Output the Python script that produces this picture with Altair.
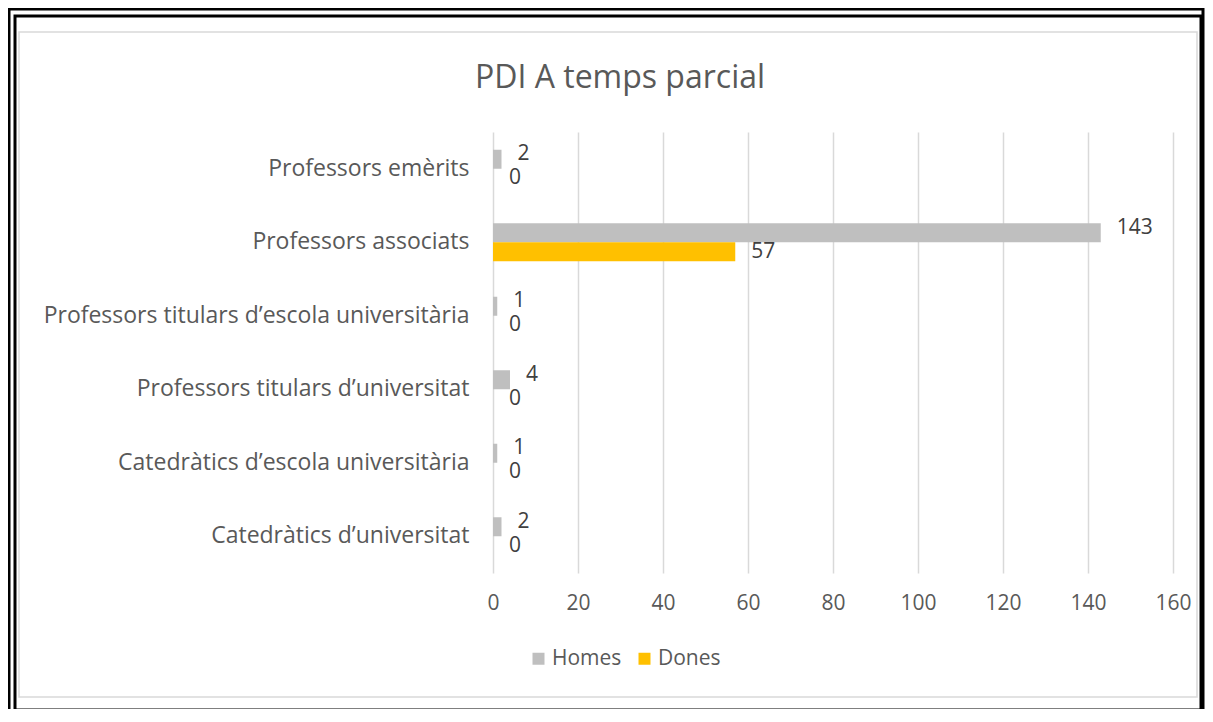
import altair as alt
import pandas as pd

categories = [
    "Professors emèrits",
    "Professors associats",
    "Professors titulars d’escola universitària",
    "Professors titulars d’universitat",
    "Catedràtics d’escola universitària",
    "Catedràtics d’universitat",
]
homes = [2, 143, 1, 4, 1, 2]
dones = [0, 57, 0, 0, 0, 0]
series = ["Homes", "Dones"]
colors = ["#BFBFBF", "#FFC000"]
x_ticks = [0, 20, 40, 60, 80, 100, 120, 140, 160]
title_text = "PDI A temps parcial"

rows = []
for c, h, d in zip(categories, homes, dones):
    rows.append({"cat": c, "series": "Homes", "value": h})
    rows.append({"cat": c, "series": "Dones", "value": d})
df = pd.DataFrame(rows)

FONT = "Open Sans"
TXT = "#595959"

y_enc = alt.Y(
    "cat:N",
    sort=categories,
    scale=alt.Scale(paddingInner=0.483, paddingOuter=0.2415),
    axis=alt.Axis(title=None, domain=False, ticks=False, labelPadding=24,
                  labelFontSize=23, labelColor=TXT, labelFont=FONT,
                  grid=False, labelLimit=700),
)
x_enc = alt.X(
    "value:Q",
    scale=alt.Scale(domain=[0, 160], nice=False),
    axis=alt.Axis(values=x_ticks, title=None, domain=False, ticks=False,
                  labelPadding=19, labelFontSize=21, labelColor=TXT,
                  labelFont=FONT, gridColor="#D9D9D9", gridWidth=1.5,
                  labelFlush=False),
)
yoff = alt.YOffset("series:N", sort=series,
                   scale=alt.Scale(domain=series, paddingInner=0, paddingOuter=0))
color = alt.Color(
    "series:N",
    scale=alt.Scale(domain=series, range=colors),
    legend=alt.Legend(title=None, orient="none", legendX=35, legendY=516,
                      direction="horizontal", symbolType="square",
                      symbolSize=144, symbolStrokeWidth=0,
                      labelFontSize=21, labelColor=TXT, labelFont=FONT,
                      columnPadding=12, labelOffset=3),
)

bars = alt.Chart(df).mark_bar().encode(y=y_enc, x=x_enc, yOffset=yoff, color=color)
labels_h = alt.Chart(df).transform_filter(alt.datum.series == "Homes").mark_text(
    align="left", dx=16, dy=-5, fontSize=21, color="#404040", font=FONT).encode(
    y=alt.Y("cat:N", sort=categories), x="value:Q", yOffset=yoff, text="value:Q")
labels_d = alt.Chart(df).transform_filter(alt.datum.series == "Dones").mark_text(
    align="left", dx=16, dy=0, fontSize=21, color="#404040", font=FONT).encode(
    y=alt.Y("cat:N", sort=categories), x="value:Q", yOffset=yoff, text="value:Q")

one = pd.DataFrame({"k": [0]})
title = alt.Chart(one).mark_text(align="center", baseline="alphabetic", fontSize=32,
                                 color=TXT, font=FONT).encode(
    x=alt.value(127), y=alt.value(-44), text=alt.value(title_text))
outer = alt.Chart(one).mark_rect(fillOpacity=0, stroke="black", strokeWidth=3).encode(
    x=alt.value(-484), x2=alt.value(710), y=alt.value(-123), y2=alt.value(580))
inner = alt.Chart(one).mark_rect(fillOpacity=0, stroke="black", strokeWidth=3).encode(
    x=alt.value(-478), x2=alt.value(708), y=alt.value(-116), y2=alt.value(578))
gray = alt.Chart(one).mark_rect(fillOpacity=0, stroke="#D9D9D9", strokeWidth=1.5).encode(
    x=alt.value(-474), x2=alt.value(704), y=alt.value(-100), y2=alt.value(565))

chart = alt.layer(outer, inner, gray, bars, labels_h, labels_d, title).properties(
    width=680, height=441,
    autosize=alt.AutoSizeParams(type="none"),
    padding={"left": 485, "top": 124, "right": 32, "bottom": 136},
    background="white",
).configure_view(strokeWidth=0)

chart.save("out.html", embed_options={"renderer": "svg", "actions": False})
